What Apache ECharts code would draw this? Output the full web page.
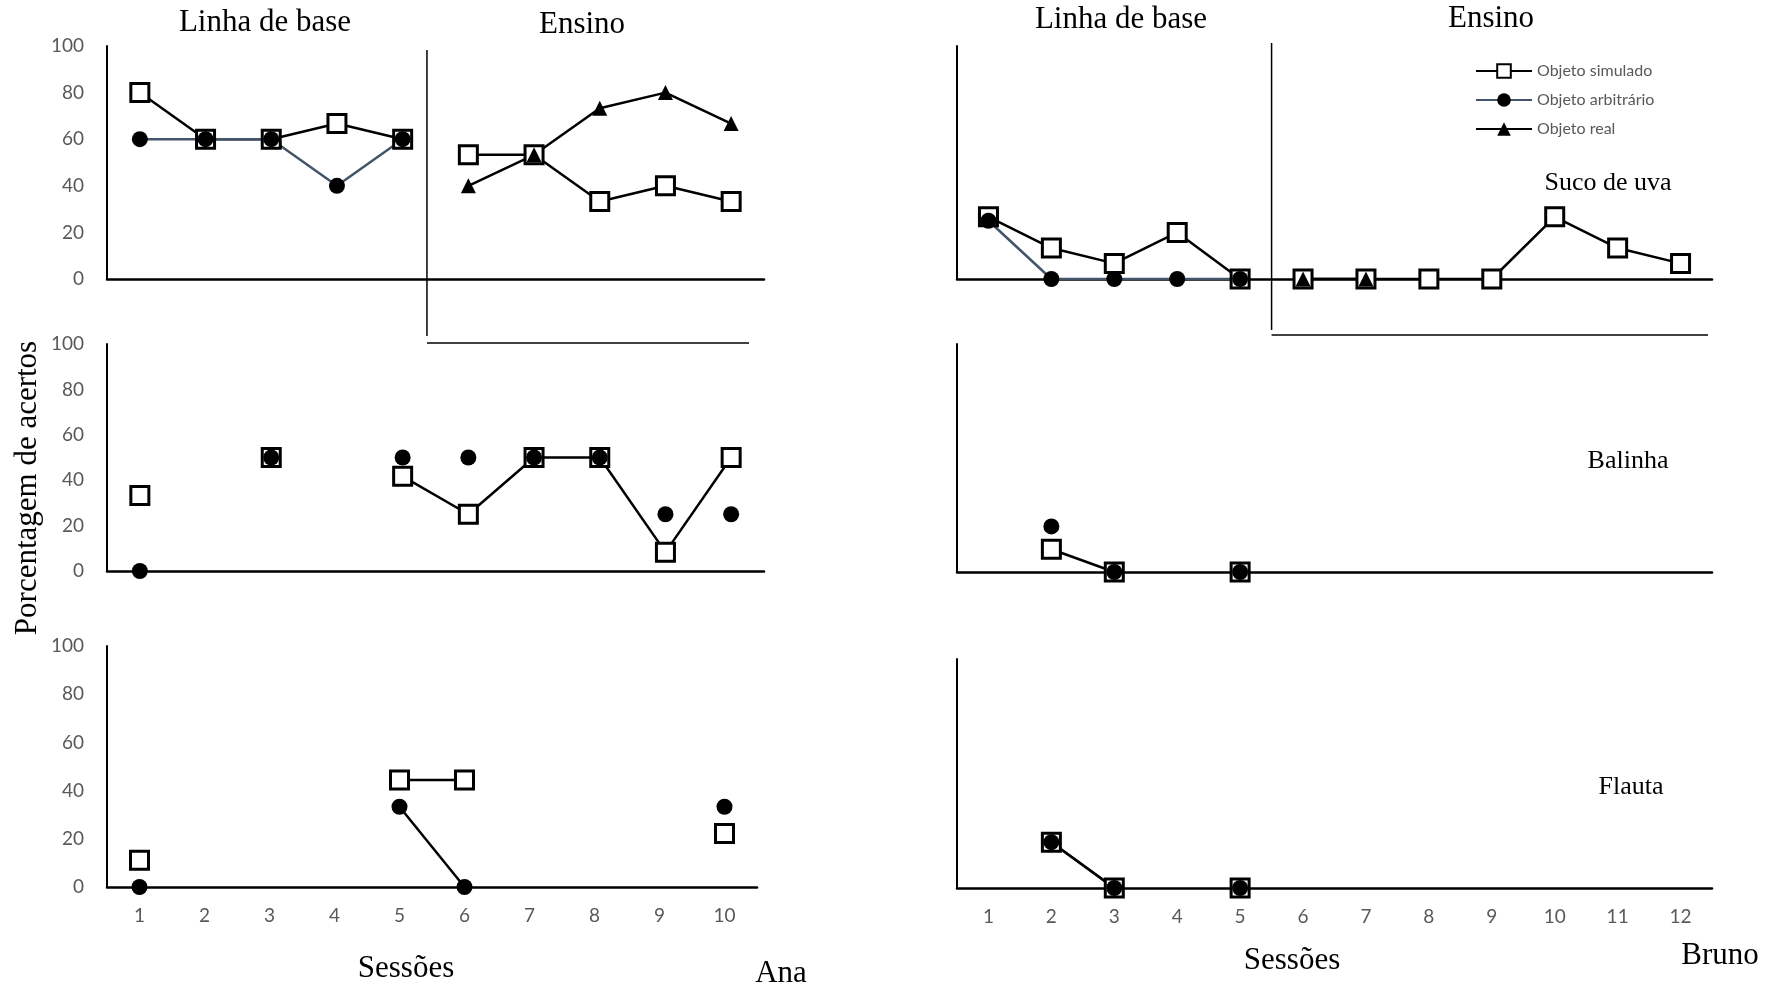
<!DOCTYPE html>
<html>
<head>
<meta charset="utf-8">
<title>Porcentagem de acertos - Ana e Bruno</title>
<script src="https://cdn.jsdelivr.net/npm/echarts@6.0.0/dist/echarts.min.js"></script>
<style>
  html, body { margin: 0; padding: 0; background: #fff; }
  #chart { width: 1767px; height: 992px; }
</style>
</head>
<body>
<div id="chart"></div>
<script>
// sessões
const sessionsAna = ['1', '2', '3', '4', '5', '6', '7', '8', '9', '10'];
const sessionsBruno = ['1', '2', '3', '4', '5', '6', '7', '8', '9', '10', '11', '12'];
const yTicks = [0, 20, 40, 60, 80, 100];

const seriesNames = ['Objeto simulado', 'Objeto arbitrário', 'Objeto real'];

// Ana - Suco de uva
const anaUvaSimBase = [80, 60, 60, 66.7, 60, null, null, null, null, null];
const anaUvaSimEns = [null, null, null, null, null, 53.3, 53.3, 33.3, 40, 33.3];
const anaUvaArb = [60, 60, 60, 40, 60, null, null, null, null, null];
const anaUvaReal = [null, null, null, null, null, 40, 53.3, 73.3, 80, 66.7];

// Ana - Balinha
const anaBalSim = [33.3, null, 50, null, 41.7, 25, 50, 50, 8.3, 50];
const anaBalArb = [0, null, 50, null, 50, 50, 50, 50, 25, 25];

// Ana - Flauta
const anaFlaSim = [11.1, null, null, null, 44.4, 44.4, null, null, null, 22.2];
const anaFlaArb = [0, null, null, null, 33.3, 0, null, null, null, 33.3];

// Bruno - Suco de uva
const brunoUvaSimBase = [26.7, 13.3, 6.7, 20, 0, null, null, null, null, null, null, null];
const brunoUvaSimEns = [null, null, null, null, null, 0, 0, 0, 0, 26.7, 13.3, 6.7];
const brunoUvaArb = [25, 0, 0, 0, 0, null, null, null, null, null, null, null];
const brunoUvaReal = [null, null, null, null, null, 0, 0, null, null, null, null, null];

// Bruno - Balinha
const brunoBalSim = [null, 10, 0, null, 0, null, null, null, null, null, null, null];
const brunoBalArb = [null, 20, 0, null, 0, null, null, null, null, null, null, null];

// Bruno - Flauta
const brunoFlaSim = [null, 20, 0, null, 0, null, null, null, null, null, null, null];
const brunoFlaArb = [null, 20, 0, null, 0, null, null, null, null, null, null, null];

// mudança de fase (em sessões)
const phaseAna = 5.37;
const phaseBruno = 5.5;

const SERIF = '"Liberation Serif", "Times New Roman", serif';
const SANS = 'Lato, "Open Sans", sans-serif';
const SLATE = '#44546a';

// grids: 0-2 Ana, 3-5 Bruno
const grids = [
    { left: 107, top: 46, width: 657, height: 233 },
    { left: 107, top: 344, width: 657, height: 227 },
    { left: 107, top: 646, width: 650, height: 241 },
    { left: 957, top: 46, width: 755, height: 233 },
    { left: 957, top: 344, width: 755, height: 228 },
    { left: 957, top: 659, width: 755, height: 229 }
];

const markers = {
    sim: { symbol: 'rect', symbolSize: 18, itemStyle: { color: '#fff', borderColor: '#000', borderWidth: 3, opacity: 1 } },
    arb: { symbol: 'circle', symbolSize: 16, itemStyle: { color: '#000', opacity: 1 } },
    real: { symbol: 'triangle', symbolSize: 15, itemStyle: { color: '#000', opacity: 1 } }
};

function mk(kind, axis, data, opts) {
    opts = opts || {};
    const name = kind === 'sim' ? seriesNames[0] : kind === 'arb' ? seriesNames[1] : seriesNames[2];
    const s = Object.assign({
        name: name,
        type: opts.scatter ? 'scatter' : 'line',
        xAxisIndex: axis,
        yAxisIndex: axis,
        data: data,
        silent: true,
        animation: false
    }, markers[kind]);
    if (opts.scatter) {
        // pontos soltos por cima dos quadrados
        s.z = 5;
    } else {
        s.showAllSymbol = true;
        s.connectNulls = false;
        s.lineStyle = { color: opts.color || '#000', width: opts.width || 2.5 };
    }
    return s;
}

const xAxes = grids.map((g, i) => ({
    type: 'category',
    gridIndex: i,
    data: i < 3 ? sessionsAna : sessionsBruno,
    boundaryGap: true,
    axisLine: { lineStyle: { color: '#000', width: 2.5 } },
    axisTick: { show: false },
    axisLabel: {
        show: i === 2 || i === 5,
        fontFamily: SANS,
        fontSize: 19,
        color: '#595959',
        margin: 19
    },
    splitLine: { show: false }
}));

const yAxes = grids.map((g, i) => ({
    type: 'value',
    gridIndex: i,
    min: yTicks[0],
    max: yTicks[yTicks.length - 1],
    interval: yTicks[1] - yTicks[0],
    axisLine: { show: true, lineStyle: { color: '#000', width: 2 } },
    axisTick: { show: false },
    axisLabel: {
        show: i < 3,
        fontFamily: SANS,
        fontSize: 19,
        color: '#595959',
        margin: 23
    },
    splitLine: { show: false }
}));

const series = [
    // Bruno - Suco de uva (primeiro por causa da legenda)
    mk('sim', 3, brunoUvaSimBase),
    mk('sim', 3, brunoUvaSimEns),
    mk('arb', 3, brunoUvaArb, { color: SLATE, width: 2.5 }),
    mk('real', 3, brunoUvaReal),
    // Ana - Suco de uva
    mk('sim', 0, anaUvaSimBase),
    mk('sim', 0, anaUvaSimEns),
    mk('arb', 0, anaUvaArb, { color: SLATE, width: 2.5 }),
    mk('real', 0, anaUvaReal),
    // Ana - Balinha
    mk('sim', 1, anaBalSim),
    mk('arb', 1, anaBalArb, { scatter: true }),
    // Ana - Flauta
    mk('sim', 2, anaFlaSim),
    mk('arb', 2, anaFlaArb),
    // Bruno - Balinha
    mk('sim', 4, brunoBalSim),
    mk('arb', 4, brunoBalArb, { scatter: true }),
    // Bruno - Flauta
    mk('sim', 5, brunoFlaSim),
    mk('arb', 5, brunoFlaArb)
];

function label(text, x, y, size, rotate) {
    return {
        type: 'text',
        x: x,
        y: y,
        rotation: rotate ? Math.PI / 2 : 0,
        silent: true,
        style: {
            text: text,
            fontFamily: SERIF,
            fontSize: size,
            fill: '#000',
            align: 'center',
            verticalAlign: 'middle'
        }
    };
}

const labels = [
    label('Linha de base', 265, 23, 31),
    label('Ensino', 582, 25, 31),
    label('Linha de base', 1121, 20, 31),
    label('Ensino', 1491, 19, 31),
    label('Suco de uva', 1608, 183, 26),
    label('Balinha', 1628, 461, 26),
    label('Flauta', 1631, 787, 26),
    label('Sessões', 406, 969, 31),
    label('Sessões', 1292, 961, 31),
    label('Ana', 781, 974, 31),
    label('Bruno', 1720, 956, 31),
    label('Porcentagem de acertos', 28, 488, 31, true)
];

const chart = echarts.init(document.getElementById('chart'));
chart.setOption({
    animation: false,
    backgroundColor: '#fff',
    grid: grids.map(g => Object.assign({ outerBoundsMode: 'none', containLabel: false }, g)),
    xAxis: xAxes,
    yAxis: yAxes,
    legend: {
        data: seriesNames,
        orient: 'vertical',
        left: 1470,
        top: 58,
        itemWidth: 56,
        itemHeight: 17,
        itemGap: 13,
        selectedMode: false,
        textStyle: { fontFamily: SANS, fontSize: 16, color: '#595959' }
    },
    series: series,
    graphic: labels
});

// linhas de mudança de fase, posicionadas pelo eixo de sessões
function phaseX(axis, at) {
    const i = Math.floor(at) - 1;
    const a = chart.convertToPixel({ xAxisIndex: axis }, i);
    const b = chart.convertToPixel({ xAxisIndex: axis }, i + 1);
    return a + (b - a) * (at - Math.floor(at));
}

const xa = phaseX(0, phaseAna);
const xb = phaseX(3, phaseBruno);
const phaseStyle = { stroke: '#000', lineWidth: 1.5 };

chart.setOption({
    graphic: labels.concat([
        { type: 'line', silent: true, shape: { x1: xa, y1: 50, x2: xa, y2: 336 }, style: phaseStyle },
        { type: 'line', silent: true, shape: { x1: xa, y1: 343, x2: 749, y2: 343 }, style: phaseStyle },
        { type: 'line', silent: true, shape: { x1: xb, y1: 43, x2: xb, y2: 330 }, style: phaseStyle },
        { type: 'line', silent: true, shape: { x1: xb, y1: 335, x2: 1708, y2: 335 }, style: phaseStyle }
    ])
});

window.addEventListener('resize', () => chart.resize());
</script>
</body>
</html>
